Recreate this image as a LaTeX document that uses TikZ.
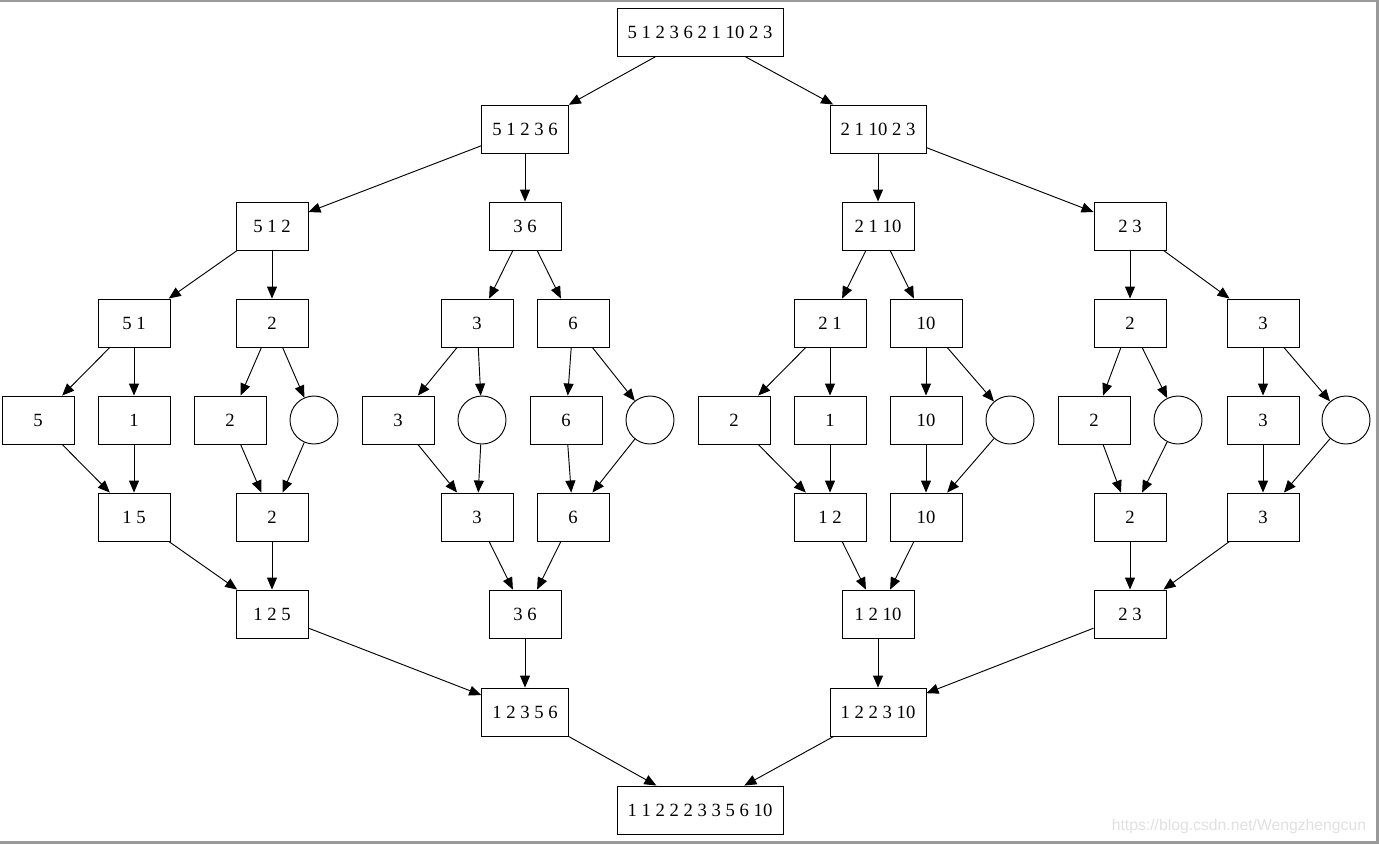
\documentclass[tikz,border=0pt]{standalone}
\usepackage{fontspec}
\setmainfont{Liberation Serif}
\newfontfamily\marksans{Liberation Sans}
\usetikzlibrary{arrows.meta}

\begin{document}
\begin{tikzpicture}[x=0.75pt,y=-0.75pt,-{Triangle[length=9pt,width=7.5pt]},line width=0.7pt,
  box node/.style={rectangle,draw,minimum width=54pt,minimum height=36pt,inner xsep=8pt,font=\fontsize{14}{16}\selectfont},
  hole node/.style={circle,draw,minimum size=36pt,inner sep=0pt}]

  \useasboundingbox (0,0) rectangle (1379,844);
  \fill[black!40] (0,0) rectangle (1379,2);
  \fill[black!40] (1376,0) rectangle (1379,844);
  \fill[black!40] (0,841) rectangle (1379,844);

  % splitting
  \node[box node] (n) at (700,32) {5 1 2 3 6 2 1 10 2 3};
  \node[box node] (n0) at (525,129) {5 1 2 3 6};
  \node[box node] (n1) at (878,129) {2 1 10 2 3};
  \node[box node] (n00) at (272,226) {5 1 2};
  \node[box node] (n01) at (525,226) {3 6};
  \node[box node] (n10) at (878,226) {2 1 10};
  \node[box node] (n11) at (1130,226) {2 3};
  \node[box node] (n000) at (134,323) {5 1};
  \node[box node] (n001) at (272,323) {2};
  \node[box node] (n010) at (477,323) {3};
  \node[box node] (n011) at (573,323) {6};
  \node[box node] (n100) at (830,323) {2 1};
  \node[box node] (n101) at (926,323) {10};
  \node[box node] (n110) at (1130,323) {2};
  \node[box node] (n111) at (1263,323) {3};
  \node[box node] (n0000) at (38,420) {5};
  \node[box node] (n0001) at (134,420) {1};
  \node[box node] (n0010) at (230,420) {2};
  \node[hole node] (n0011) at (314,420) {};
  \node[box node] (n0100) at (398,420) {3};
  \node[hole node] (n0101) at (482,420) {};
  \node[box node] (n0110) at (566,420) {6};
  \node[hole node] (n0111) at (650,420) {};
  \node[box node] (n1000) at (734,420) {2};
  \node[box node] (n1001) at (830,420) {1};
  \node[box node] (n1010) at (926,420) {10};
  \node[hole node] (n1011) at (1010,420) {};
  \node[box node] (n1100) at (1094,420) {2};
  \node[hole node] (n1101) at (1178,420) {};
  \node[box node] (n1110) at (1263,420) {3};
  \node[hole node] (n1111) at (1346,420) {};

  % merging
  \node[box node] (m000) at (134,517) {1 5};
  \node[box node] (m001) at (272,517) {2};
  \node[box node] (m010) at (477,517) {3};
  \node[box node] (m011) at (573,517) {6};
  \node[box node] (m100) at (830,517) {1 2};
  \node[box node] (m101) at (926,517) {10};
  \node[box node] (m110) at (1130,517) {2};
  \node[box node] (m111) at (1263,517) {3};
  \node[box node] (m00) at (272,614) {1 2 5};
  \node[box node] (m01) at (525,614) {3 6};
  \node[box node] (m10) at (878,614) {1 2 10};
  \node[box node] (m11) at (1130,614) {2 3};
  \node[box node] (m0) at (525,712) {1 2 3 5 6};
  \node[box node] (m1) at (878,712) {1 2 2 3 10};
  \node[box node] (m) at (700,810) {1 1 2 2 2 3 3 5 6 10};

  \foreach \a in {0,1}
    \draw (n) -- (n\a);
  \foreach \a in {0,1}
    \foreach \b in {0,1} {
      \draw (n\a) -- (n\a\b);
      \foreach \c in {0,1} {
        \draw (n\a\b) -- (n\a\b\c);
        \foreach \d in {0,1}
          \draw (n\a\b\c) -- (n\a\b\c\d);
        \foreach \d in {0,1}
          \draw (n\a\b\c\d) -- (m\a\b\c);
        \draw (m\a\b\c) -- (m\a\b);
      }
      \draw (m\a\b) -- (m\a);
    }
  \foreach \a in {0,1}
    \draw (m\a) -- (m);

  \node[text=black!12,font=\marksans\fontsize{11.8}{14}\selectfont,anchor=base east] (mark) at (1371,830) {https://blog.csdn.net/Wengzhengcun};
\end{tikzpicture}
\end{document}
